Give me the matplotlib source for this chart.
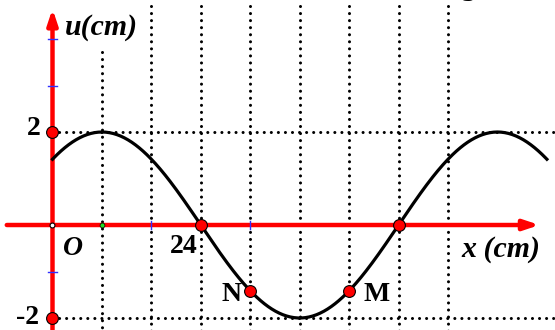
import numpy as np
from matplotlib import pyplot as plt

# wave (cm)
amplitude = 2.0
wavelength = 64.0
x_peak = 8.0
x_end = 80.0

grid_x = [8, 16, 24, 32, 40, 48, 56, 64]
grid_u = [2, -2]
u_labels = ['2', '-2']

# marked points
dot_x = [0, 0, 24, 56]
dot_u = [2, -2, 0, 0]
N_x, M_x = 32, 48
blue_ticks_u = [4, 3, -1]
blue_ticks_x = [16, 32]

ser = ['Liberation Serif', 'DejaVu Serif']

fig = plt.figure(figsize=(5.55, 3.30), dpi=100)
ax = fig.add_axes([0, 0, 1, 1])
ax.set_xlim(-8.495, 81.31)
ax.set_ylim(-2.258, 4.839)
ax.axis('off')

dot_style = dict(color='black', lw=2.2, linestyle=(0, (0.01, 2.3)),
                 dash_capstyle='round', zorder=1)

# dotted grid
for gx in grid_x:
    top = 3.72 if gx == grid_x[0] else 4.72
    ax.plot([gx, gx], [top, -2.3], **dot_style)
for gu in grid_u:
    ax.plot([0, 82], [gu, gu], **dot_style)

# axes (red arrows)
ax.annotate('', xy=(78.8, 0), xytext=(-7.4, 0),
            arrowprops=dict(arrowstyle='-|>,head_length=0.9,head_width=0.3',
                            color='red', lw=3.2, shrinkA=0, shrinkB=0), zorder=2)
ax.annotate('', xy=(0, 4.65), xytext=(0, -2.3),
            arrowprops=dict(arrowstyle='-|>,head_length=0.9,head_width=0.3',
                            color='red', lw=3.2, shrinkA=0, shrinkB=0), zorder=2)

# small blue ticks
for bu in blue_ticks_u:
    ax.plot([-0.7, 0.7], [bu, bu], color='#3030ff', lw=1, zorder=3)
for bx in blue_ticks_x:
    ax.plot([bx, bx], [-0.08, 0.08], color='#3030ff', lw=1, zorder=3)

# wave
x = np.linspace(0, x_end, 400)
u = amplitude * np.cos(2 * np.pi * (x - x_peak) / wavelength)
ax.plot(x, u, color='black', lw=2.3, zorder=4)

# points
uN = amplitude * np.cos(2 * np.pi * (N_x - x_peak) / wavelength)
uM = amplitude * np.cos(2 * np.pi * (M_x - x_peak) / wavelength)
ax.plot(dot_x + [N_x, M_x], dot_u + [uN, uM], 'o', ms=8.5, mfc='red',
        mec='black', mew=0.8, zorder=5)
ax.plot([0], [0], 'o', ms=3.5, mfc='white', mec='black', mew=0.8, zorder=5)
ax.plot([8], [0], 'o', ms=3.5, mfc='#22dd22', mec='black', mew=0.5, zorder=5)

# labels
tk = dict(family=ser, fontsize=20, fontweight='bold', ha='center', va='center')
ax.text(-3.0, 2.07, u_labels[0], **tk)
ax.text(-4.0, -1.98, u_labels[1], **tk)
ax.text(3.3, -0.5, 'O', style='italic', **tk)
ax.text(21.3, -0.47, '24', **tk)
ax.text(28.9, -1.5, 'N', **tk)
ax.text(52.5, -1.5, 'M', **tk)
tk['fontsize'] = 21.5
ax.text(72.6, -0.53, 'x (cm)', style='italic', **tk)
ax.text(7.9, 4.25, 'u(cm)', style='italic', **tk)
ax.text(67.3, 4.95, '3', family=ser, fontsize=20, ha='center', va='center')

fig.savefig('out.png', dpi=100)
